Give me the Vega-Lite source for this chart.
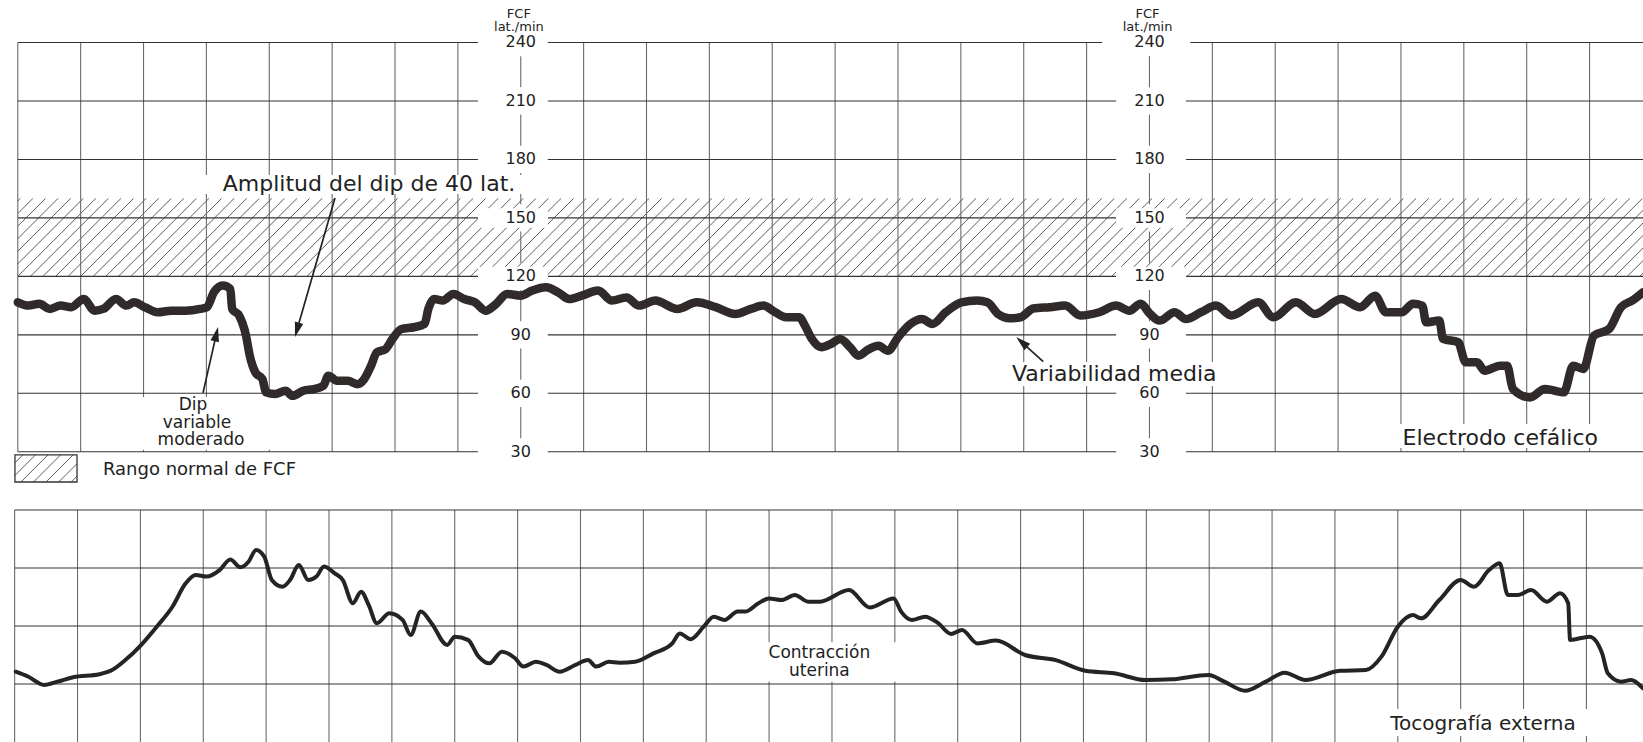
{
  "$schema": "https://vega.github.io/schema/vega-lite/v6.json",
  "width": 1643,
  "height": 742,
  "autosize": {"type": "none"},
  "padding": 0,
  "background": "white",
  "config": {"view": {"stroke": null}},
  "resolve": {"scale": {"y": "independent"}},
  "datasets": {
    "fhr": [
      {"t": 0, "v": 106.7}, {"t": 1.7, "v": 105}, {"t": 3.4, "v": 105.9}, {"t": 5.1, "v": 103.3}, {"t": 6.8, "v": 105},
      {"t": 8.5, "v": 104.2}, {"t": 10.5, "v": 108.4}, {"t": 12.2, "v": 102.4}, {"t": 13.6, "v": 103.3}, {"t": 15.6, "v": 108.4},
      {"t": 17.3, "v": 105}, {"t": 18.5, "v": 106.7}, {"t": 20.2, "v": 104.2}, {"t": 22.2, "v": 101.6}, {"t": 24.4, "v": 102.4},
      {"t": 26.7, "v": 102.4}, {"t": 29, "v": 103.3}, {"t": 30.1, "v": 104.2}, {"t": 31.2, "v": 111.9}, {"t": 32.6, "v": 115.3},
      {"t": 33.8, "v": 113.6}, {"t": 34.1, "v": 103.3}, {"t": 35.2, "v": 99.9}, {"t": 36.3, "v": 89.6}, {"t": 36.9, "v": 79.3},
      {"t": 37.8, "v": 70.7}, {"t": 38.9, "v": 67.3}, {"t": 39.5, "v": 60.5}, {"t": 40.9, "v": 59.6}, {"t": 42.6, "v": 61.3},
      {"t": 43.7, "v": 58.7}, {"t": 45.4, "v": 61.3}, {"t": 47.1, "v": 62.2}, {"t": 48.6, "v": 63.9}, {"t": 49.4, "v": 69},
      {"t": 50.8, "v": 66.4}, {"t": 52.5, "v": 66.4}, {"t": 54, "v": 64.7}, {"t": 55.1, "v": 67.3}, {"t": 56.2, "v": 74.2},
      {"t": 57.1, "v": 81}, {"t": 58.5, "v": 82.7}, {"t": 59.6, "v": 87.9}, {"t": 61, "v": 93}, {"t": 63, "v": 93.9},
      {"t": 64.7, "v": 95.6}, {"t": 65.3, "v": 103.3}, {"t": 66.2, "v": 108.4}, {"t": 67.6, "v": 107.6}, {"t": 69.3, "v": 111},
      {"t": 71, "v": 108.4}, {"t": 72.7, "v": 106.7}, {"t": 74.4, "v": 102.4}, {"t": 76.1, "v": 105.9}, {"t": 77.8, "v": 111},
      {"t": 80, "v": 110.1}, {"t": 81.8, "v": 112.7}, {"t": 84, "v": 114.4}, {"t": 86.1, "v": 111.5}, {"t": 87.7, "v": 108.4},
      {"t": 89.7, "v": 110.1}, {"t": 92.3, "v": 112.7}, {"t": 94.5, "v": 107.6}, {"t": 96.8, "v": 109.2}, {"t": 98.8, "v": 105},
      {"t": 101.4, "v": 107.6}, {"t": 104.9, "v": 103.3}, {"t": 108, "v": 106.7}, {"t": 111, "v": 104.2}, {"t": 114.1, "v": 100.7},
      {"t": 116.6, "v": 103.3}, {"t": 118.6, "v": 105}, {"t": 120.1, "v": 102.4}, {"t": 122.2, "v": 99}, {"t": 124.3, "v": 99},
      {"t": 125.2, "v": 94.7}, {"t": 126.3, "v": 87.9}, {"t": 127.8, "v": 83.6}, {"t": 129.3, "v": 85.3}, {"t": 130.8, "v": 87.9},
      {"t": 132.4, "v": 83.6}, {"t": 133.7, "v": 79.3}, {"t": 135.4, "v": 82.7}, {"t": 136.9, "v": 84.4}, {"t": 138.4, "v": 81.8},
      {"t": 140, "v": 88.7}, {"t": 142, "v": 95.6}, {"t": 143.8, "v": 98.1}, {"t": 145.5, "v": 95.6}, {"t": 147.6, "v": 101.6},
      {"t": 150.1, "v": 106.7}, {"t": 152.6, "v": 107.6}, {"t": 154.2, "v": 106.7}, {"t": 156, "v": 100.5}, {"t": 157.7, "v": 98.5},
      {"t": 159.5, "v": 99}, {"t": 161.5, "v": 103.5}, {"t": 164.2, "v": 104.2}, {"t": 166.6, "v": 105}, {"t": 169, "v": 99.9},
      {"t": 172, "v": 101.6}, {"t": 174.7, "v": 105}, {"t": 176.8, "v": 102.4}, {"t": 178.6, "v": 105.9}, {"t": 180.1, "v": 100.7},
      {"t": 181.6, "v": 97.3}, {"t": 184, "v": 101.6}, {"t": 185.8, "v": 98.1}, {"t": 188.2, "v": 101.6}, {"t": 190.6, "v": 105},
      {"t": 193, "v": 99.9}, {"t": 197.3, "v": 106.7}, {"t": 199.7, "v": 99}, {"t": 203.3, "v": 106.7}, {"t": 206.3, "v": 100.7},
      {"t": 210.5, "v": 108.4}, {"t": 213.5, "v": 104.2}, {"t": 215.9, "v": 110.1}, {"t": 217.6, "v": 101.6}, {"t": 220.1, "v": 101.6},
      {"t": 221.9, "v": 105.9}, {"t": 223.4, "v": 105}, {"t": 224, "v": 96.4}, {"t": 226.1, "v": 97.3}, {"t": 226.7, "v": 87.9},
      {"t": 229.1, "v": 86.2}, {"t": 230.3, "v": 75.9}, {"t": 232.1, "v": 75.9}, {"t": 233.3, "v": 71.6}, {"t": 235.8, "v": 74.2},
      {"t": 236.9, "v": 74.2}, {"t": 237.8, "v": 62.2}, {"t": 240.5, "v": 57.9}, {"t": 242.9, "v": 62.2}, {"t": 245.9, "v": 60.5},
      {"t": 247.4, "v": 74.2}, {"t": 249, "v": 72.5}, {"t": 250.7, "v": 89.6}, {"t": 253.1, "v": 93}, {"t": 255, "v": 104.2},
      {"t": 256.8, "v": 107.6}, {"t": 258.5, "v": 111.9}
    ],
    "uc": [
      {"t": -0.33, "u": 30.3}, {"t": 1.7, "u": 28.1}, {"t": 4.2, "u": 24.6}, {"t": 6.3, "u": 26}, {"t": 8.8, "u": 27.9},
      {"t": 13, "u": 29.2}, {"t": 15, "u": 31}, {"t": 17.1, "u": 35.3}, {"t": 19.6, "u": 41.8}, {"t": 22.1, "u": 49.7},
      {"t": 24.6, "u": 58.3}, {"t": 26.7, "u": 68.4}, {"t": 28.3, "u": 72}, {"t": 30, "u": 71.3}, {"t": 32.1, "u": 74.1},
      {"t": 33.8, "u": 78.7}, {"t": 35.4, "u": 75.3}, {"t": 36.7, "u": 77.7}, {"t": 37.9, "u": 82.8}, {"t": 39.2, "u": 79.9},
      {"t": 40.4, "u": 69.8}, {"t": 42.1, "u": 66.9}, {"t": 43.3, "u": 69.8}, {"t": 44.7, "u": 76.3}, {"t": 46.2, "u": 69.8},
      {"t": 47.5, "u": 71.3}, {"t": 48.7, "u": 75.6}, {"t": 50.4, "u": 72.7}, {"t": 51.7, "u": 69.8}, {"t": 53.3, "u": 59.8},
      {"t": 54.6, "u": 64.8}, {"t": 55.8, "u": 59.1}, {"t": 57.1, "u": 51.2}, {"t": 59.1, "u": 55.5}, {"t": 61.2, "u": 52.6},
      {"t": 62.5, "u": 46.1}, {"t": 64.1, "u": 56.2}, {"t": 65.8, "u": 51.2}, {"t": 68.3, "u": 41.8}, {"t": 69.5, "u": 45.4},
      {"t": 71.6, "u": 44}, {"t": 73.3, "u": 36.8}, {"t": 75, "u": 33.9}, {"t": 77, "u": 38.9}, {"t": 79.1, "u": 36.1},
      {"t": 80.4, "u": 32.5}, {"t": 82.4, "u": 34.6}, {"t": 84.1, "u": 33.2}, {"t": 86.2, "u": 30.3}, {"t": 88.7, "u": 33.2},
      {"t": 90.7, "u": 35.3}, {"t": 92, "u": 32.5}, {"t": 94, "u": 34.6}, {"t": 95.7, "u": 34.2}, {"t": 98.2, "u": 34.6},
      {"t": 101.1, "u": 38.2}, {"t": 104.1, "u": 42.5}, {"t": 105.3, "u": 46.8}, {"t": 107, "u": 44.3}, {"t": 109.1, "u": 49.7},
      {"t": 110.7, "u": 54}, {"t": 112.4, "u": 52.6}, {"t": 114.5, "u": 56.2}, {"t": 115.7, "u": 56.2}, {"t": 117.8, "u": 59.8},
      {"t": 119.5, "u": 61.9}, {"t": 121.5, "u": 61.2}, {"t": 123.6, "u": 63.4}, {"t": 125.7, "u": 60.5}, {"t": 127.6, "u": 60.5},
      {"t": 132.2, "u": 65.5}, {"t": 135.5, "u": 58}, {"t": 139.3, "u": 61.9}, {"t": 140.5, "u": 56.2}, {"t": 142.2, "u": 52.6},
      {"t": 144.3, "u": 54}, {"t": 146.4, "u": 51.2}, {"t": 148.4, "u": 46.6}, {"t": 150.2, "u": 48.3}, {"t": 152.6, "u": 42.5},
      {"t": 155.6, "u": 43.7}, {"t": 160.2, "u": 37.5}, {"t": 165.1, "u": 35.3}, {"t": 169.8, "u": 30.7}, {"t": 174.4, "u": 29.6},
      {"t": 179.4, "u": 26.7}, {"t": 183.5, "u": 27}, {"t": 189.4, "u": 28.9}, {"t": 191.9, "u": 26}, {"t": 195.2, "u": 22.1},
      {"t": 198.5, "u": 26}, {"t": 201.5, "u": 29.9}, {"t": 204.8, "u": 26.7}, {"t": 210.3, "u": 30.7}, {"t": 214.4, "u": 31},
      {"t": 216.9, "u": 36.8}, {"t": 219.5, "u": 49.7}, {"t": 221.9, "u": 54.7}, {"t": 223.2, "u": 53.3}, {"t": 226.1, "u": 61.2},
      {"t": 229.5, "u": 69.8}, {"t": 231.6, "u": 66.9}, {"t": 234, "u": 74.1}, {"t": 235.7, "u": 77}, {"t": 237, "u": 63.4},
      {"t": 238.6, "u": 63.4}, {"t": 240.7, "u": 65.5}, {"t": 243.2, "u": 60.5}, {"t": 245.3, "u": 64.1}, {"t": 246.6, "u": 59.8},
      {"t": 246.9, "u": 44}, {"t": 250, "u": 45.4}, {"t": 252, "u": 38.2}, {"t": 252.9, "u": 29.6}, {"t": 255, "u": 26},
      {"t": 256.6, "u": 26.7}, {"t": 258.5, "u": 23.1}
    ],
    "hgrid": [
      {"v": 30, "a": 0, "b": 73.2}, {"v": 30, "a": 84.3, "b": 174.7}, {"v": 30, "a": 185.8, "b": 259},
      {"v": 60, "a": 0, "b": 73.2}, {"v": 60, "a": 84.3, "b": 174.7}, {"v": 60, "a": 185.8, "b": 259},
      {"v": 90, "a": 0, "b": 73.2}, {"v": 90, "a": 84.3, "b": 174.7}, {"v": 90, "a": 185.8, "b": 259},
      {"v": 120, "a": 0, "b": 73.2}, {"v": 120, "a": 84.3, "b": 174.7}, {"v": 120, "a": 185.8, "b": 259},
      {"v": 150, "a": 0, "b": 73.2}, {"v": 150, "a": 84.3, "b": 174.7}, {"v": 150, "a": 185.8, "b": 259},
      {"v": 180, "a": 0, "b": 73.2}, {"v": 180, "a": 84.3, "b": 174.7}, {"v": 180, "a": 185.8, "b": 259},
      {"v": 210, "a": 0, "b": 73.2}, {"v": 210, "a": 84.3, "b": 174.7}, {"v": 210, "a": 185.8, "b": 259},
      {"v": 240, "a": 0, "b": 73.2}, {"v": 240, "a": 84.3, "b": 172.5}, {"v": 240, "a": 186.5, "b": 259}
    ],
    "colseg": [
      {"t": 80, "lo": 37, "hi": 53}, {"t": 80, "lo": 67, "hi": 83}, {"t": 80, "lo": 97, "hi": 113}, {"t": 80, "lo": 127, "hi": 143},
      {"t": 80, "lo": 157, "hi": 173}, {"t": 80, "lo": 187, "hi": 203}, {"t": 80, "lo": 217, "hi": 233},
      {"t": 180, "lo": 37, "hi": 53}, {"t": 180, "lo": 67, "hi": 83}, {"t": 180, "lo": 97, "hi": 113}, {"t": 180, "lo": 127, "hi": 143},
      {"t": 180, "lo": 157, "hi": 173}, {"t": 180, "lo": 187, "hi": 203}, {"t": 180, "lo": 217, "hi": 233}
    ],
    "masksFhr": [
      {"a": 25.5, "b": 86.2, "lo": 162.3, "hi": 172.0},
      {"a": 16.6, "b": 41.7, "lo": 31.0, "hi": 58.1},
      {"a": 152.3, "b": 196.8, "lo": 63.8, "hi": 76.1},
      {"a": 214.3, "b": 257.2, "lo": 31.9, "hi": 44.3},
      {"a": 73.2, "b": 84.3, "lo": 145, "hi": 155},
      {"a": 73.2, "b": 84.3, "lo": 115, "hi": 125},
      {"a": 174.7, "b": 185.8, "lo": 145, "hi": 155},
      {"a": 174.7, "b": 185.8, "lo": 115, "hi": 125}
    ],
    "masksUc": [
      {"a": 112.5, "b": 142.7, "lo": 26.0, "hi": 43.0},
      {"a": 210.3, "b": 255.6, "lo": 2.6, "hi": 14.2}
    ],
    "labels": [
      {"t": 80, "v": 240}, {"t": 80, "v": 210}, {"t": 80, "v": 180}, {"t": 80, "v": 150},
      {"t": 80, "v": 120}, {"t": 80, "v": 90}, {"t": 80, "v": 60}, {"t": 80, "v": 30},
      {"t": 180, "v": 240}, {"t": 180, "v": 210}, {"t": 180, "v": 180}, {"t": 180, "v": 150},
      {"t": 180, "v": 120}, {"t": 180, "v": 90}, {"t": 180, "v": 60}, {"t": 180, "v": 30}
    ],
    "heads": [
      {"t": 79.7, "v": 254.4, "s": "FCF"}, {"t": 79.7, "v": 247.7, "s": "lat./min"},
      {"t": 179.7, "v": 254.4, "s": "FCF"}, {"t": 179.7, "v": 247.7, "s": "lat./min"}
    ],
    "notesBig": [
      {"t": 55.86, "v": 167.4, "s": "Amplitud del dip de 40 lat."},
      {"t": 174.4, "v": 69.9, "s": "Variabilidad media"},
      {"t": 235.8, "v": 37.1, "s": "Electrodo cefálico"}
    ],
    "notesDip": [
      {"t": 27.87, "v": 54.0, "s": "Dip"},
      {"t": 28.5, "v": 45.0, "s": "variable"},
      {"t": 29.14, "v": 36.0, "s": "moderado"}
    ],
    "notesUc": [
      {"t": 127.5, "u": 38.4, "s": "Contracción"},
      {"t": 127.5, "u": 30.6, "s": "uterina"}
    ],
    "notesUc2": [
      {"t": 233.05, "u": 7.76, "s": "Tocografía externa"}
    ],
    "legendText": [{"t": 13.55, "v": 20.7, "s": "Rango normal de FCF"}],
    "legendBox": [{"a": -0.45, "b": 9.42, "lo": 14.5, "hi": 28.4}],
    "legendHatch": [
      {"a": -0.45, "p": 24.34, "b": 0.81, "q": 28.4},
      {"a": -0.45, "p": 17.89, "b": 2.81, "q": 28.4},
      {"a": 0.5, "p": 14.5, "b": 4.81, "q": 28.4},
      {"a": 2.5, "p": 14.5, "b": 6.81, "q": 28.4},
      {"a": 4.5, "p": 14.5, "b": 8.81, "q": 28.4},
      {"a": 6.5, "p": 14.5, "b": 9.42, "q": 23.92},
      {"a": 8.5, "p": 14.5, "b": 9.42, "q": 17.47}
    ],
    "shafts": [
      {"a": 50.45, "p": 160.2, "b": 44.47, "q": 93.2},
      {"a": 29.46, "p": 60.2, "b": 31.54, "q": 89.7},
      {"a": 163.1, "p": 76.2, "b": 159.85, "q": 85.8}
    ]
  },
  "layer": [
    {
      "data": {"values": [-12,-10,-8,-6,-4,-2,0,2,4,6,8,10,12,14,16,18,20,22,24,26,28,30,32,34,36,38,40,42,44,46,48,50,52,54,56,58,60,62,64,66,68,70,72,74,76,78,80,82,84,86,88,90,92,94,96,98,100,102,104,106,108,110,112,114,116,118,120,122,124,126,128,130,132,134,136,138,140,142,144,146,148,150,152,154,156,158,160,162,164,166,168,170,172,174,176,178,180,182,184,186,188,190,192,194,196,198,200,202,204,206,208,210,212,214,216,218,220,222,224,226,228,230,232,234,236,238,240,242,244,246,248,250,252,254,256,258]},
      "mark": {"type": "rule", "x2Offset": 78, "stroke": "#4a4a4a", "strokeWidth": 0.9, "clip": true},
      "encoding": {
        "x": {"field": "data", "type": "quantitative", "scale": {"domain": [-2.83, 258.5], "nice": false, "zero": false}, "axis": null},
        "x2": {"field": "data"},
        "y": {"datum": 120, "type": "quantitative", "scale": {"domain": [-118.9, 261.8], "nice": false, "zero": false}, "axis": null},
        "y2": {"datum": 160}
      }
    },
    {
      "data": {"values": [{"m": 1}]},
      "mark": {"type": "rect", "fill": "white"},
      "encoding": {
        "x": {"datum": -2.83, "type": "quantitative", "scale": {"domain": [-2.83, 258.5], "nice": false, "zero": false}, "axis": null},
        "x2": {"datum": 0},
        "y": {"datum": 116, "type": "quantitative", "scale": {"domain": [-118.9, 261.8], "nice": false, "zero": false}, "axis": null},
        "y2": {"datum": 164}
      }
    },
    {
      "data": {"values": [0,10,20,30,40,50,60,70,90,100,110,120,130,140,150,160,170,190,200,210,220,230,240,250]},
      "mark": {"type": "rule", "stroke": "#6a6a6a", "strokeWidth": 1.1},
      "encoding": {
        "x": {"field": "data", "type": "quantitative", "scale": {"domain": [-2.83, 258.5], "nice": false, "zero": false}, "axis": null},
        "y": {"datum": 30, "type": "quantitative", "scale": {"domain": [-118.9, 261.8], "nice": false, "zero": false}, "axis": null},
        "y2": {"datum": 240}
      }
    },
    {
      "data": {"name": "colseg"},
      "mark": {"type": "rule", "stroke": "#6a6a6a", "strokeWidth": 1.1},
      "encoding": {
        "x": {"field": "t", "type": "quantitative", "scale": {"domain": [-2.83, 258.5], "nice": false, "zero": false}, "axis": null},
        "y": {"field": "lo", "type": "quantitative", "scale": {"domain": [-118.9, 261.8], "nice": false, "zero": false}, "axis": null},
        "y2": {"field": "hi"}
      }
    },
    {
      "data": {"name": "hgrid"},
      "mark": {"type": "rule", "stroke": "#333333", "strokeWidth": 1.1},
      "encoding": {
        "x": {"field": "a", "type": "quantitative", "scale": {"domain": [-2.83, 258.5], "nice": false, "zero": false}, "axis": null},
        "x2": {"field": "b"},
        "y": {"field": "v", "type": "quantitative", "scale": {"domain": [-118.9, 261.8], "nice": false, "zero": false}, "axis": null}
      }
    },
    {
      "data": {"values": [-0.5,9.5,19.5,29.5,39.5,49.5,59.5,69.5,79.5,89.5,99.5,109.5,119.5,129.5,139.5,149.5,159.5,169.5,179.5,189.5,199.5,209.5,219.5,229.5,239.5,249.5]},
      "mark": {"type": "rule", "stroke": "#6a6a6a", "strokeWidth": 1.1},
      "encoding": {
        "x": {"field": "data", "type": "quantitative", "scale": {"domain": [-2.83, 258.5], "nice": false, "zero": false}, "axis": null},
        "y": {"datum": 0, "type": "quantitative", "scale": {"domain": [0, 319.8], "nice": false, "zero": false}, "axis": null},
        "y2": {"datum": 100}
      }
    },
    {
      "data": {"values": [25, 50, 75, 100]},
      "mark": {"type": "rule", "stroke": "#333333", "strokeWidth": 1.1},
      "encoding": {
        "x": {"datum": -0.5, "type": "quantitative", "scale": {"domain": [-2.83, 258.5], "nice": false, "zero": false}, "axis": null},
        "x2": {"datum": 258.5},
        "y": {"field": "data", "type": "quantitative", "scale": {"domain": [0, 319.8], "nice": false, "zero": false}, "axis": null}
      }
    },
    {
      "data": {"name": "masksFhr"},
      "mark": {"type": "rect", "fill": "white"},
      "encoding": {
        "x": {"field": "a", "type": "quantitative", "scale": {"domain": [-2.83, 258.5], "nice": false, "zero": false}, "axis": null},
        "x2": {"field": "b"},
        "y": {"field": "lo", "type": "quantitative", "scale": {"domain": [-118.9, 261.8], "nice": false, "zero": false}, "axis": null},
        "y2": {"field": "hi"}
      }
    },
    {
      "data": {"name": "masksUc"},
      "mark": {"type": "rect", "fill": "white"},
      "encoding": {
        "x": {"field": "a", "type": "quantitative", "scale": {"domain": [-2.83, 258.5], "nice": false, "zero": false}, "axis": null},
        "x2": {"field": "b"},
        "y": {"field": "lo", "type": "quantitative", "scale": {"domain": [0, 319.8], "nice": false, "zero": false}, "axis": null},
        "y2": {"field": "hi"}
      }
    },
    {
      "data": {"name": "legendHatch"},
      "mark": {"type": "rule", "stroke": "#4a4a4a", "strokeWidth": 0.9},
      "encoding": {
        "x": {"field": "a", "type": "quantitative", "scale": {"domain": [-2.83, 258.5], "nice": false, "zero": false}, "axis": null},
        "x2": {"field": "b"},
        "y": {"field": "p", "type": "quantitative", "scale": {"domain": [-118.9, 261.8], "nice": false, "zero": false}, "axis": null},
        "y2": {"field": "q"}
      }
    },
    {
      "data": {"name": "legendBox"},
      "mark": {"type": "rect", "fill": "transparent", "stroke": "#333333", "strokeWidth": 1.3},
      "encoding": {
        "x": {"field": "a", "type": "quantitative", "scale": {"domain": [-2.83, 258.5], "nice": false, "zero": false}, "axis": null},
        "x2": {"field": "b"},
        "y": {"field": "lo", "type": "quantitative", "scale": {"domain": [-118.9, 261.8], "nice": false, "zero": false}, "axis": null},
        "y2": {"field": "hi"}
      }
    },
    {
      "data": {"name": "labels"},
      "mark": {"type": "text", "font": "DejaVu Sans", "fontSize": 16, "baseline": "middle", "align": "center", "fill": "#222222"},
      "encoding": {
        "x": {"field": "t", "type": "quantitative", "scale": {"domain": [-2.83, 258.5], "nice": false, "zero": false}, "axis": null},
        "y": {"field": "v", "type": "quantitative", "scale": {"domain": [-118.9, 261.8], "nice": false, "zero": false}, "axis": null},
        "text": {"field": "v", "type": "quantitative"}
      }
    },
    {
      "data": {"name": "heads"},
      "mark": {"type": "text", "font": "DejaVu Sans", "fontSize": 13, "baseline": "middle", "align": "center", "fill": "#222222"},
      "encoding": {
        "x": {"field": "t", "type": "quantitative", "scale": {"domain": [-2.83, 258.5], "nice": false, "zero": false}, "axis": null},
        "y": {"field": "v", "type": "quantitative", "scale": {"domain": [-118.9, 261.8], "nice": false, "zero": false}, "axis": null},
        "text": {"field": "s"}
      }
    },
    {
      "data": {"name": "notesBig"},
      "mark": {"type": "text", "font": "DejaVu Sans", "fontSize": 22, "baseline": "middle", "align": "center", "fill": "#222222"},
      "encoding": {
        "x": {"field": "t", "type": "quantitative", "scale": {"domain": [-2.83, 258.5], "nice": false, "zero": false}, "axis": null},
        "y": {"field": "v", "type": "quantitative", "scale": {"domain": [-118.9, 261.8], "nice": false, "zero": false}, "axis": null},
        "text": {"field": "s"}
      }
    },
    {
      "data": {"name": "notesDip"},
      "mark": {"type": "text", "font": "DejaVu Sans", "fontSize": 17, "baseline": "middle", "align": "center", "fill": "#222222"},
      "encoding": {
        "x": {"field": "t", "type": "quantitative", "scale": {"domain": [-2.83, 258.5], "nice": false, "zero": false}, "axis": null},
        "y": {"field": "v", "type": "quantitative", "scale": {"domain": [-118.9, 261.8], "nice": false, "zero": false}, "axis": null},
        "text": {"field": "s"}
      }
    },
    {
      "data": {"name": "legendText"},
      "mark": {"type": "text", "font": "DejaVu Sans", "fontSize": 18, "baseline": "middle", "align": "left", "fill": "#222222"},
      "encoding": {
        "x": {"field": "t", "type": "quantitative", "scale": {"domain": [-2.83, 258.5], "nice": false, "zero": false}, "axis": null},
        "y": {"field": "v", "type": "quantitative", "scale": {"domain": [-118.9, 261.8], "nice": false, "zero": false}, "axis": null},
        "text": {"field": "s"}
      }
    },
    {
      "data": {"name": "notesUc"},
      "mark": {"type": "text", "font": "DejaVu Sans", "fontSize": 17, "baseline": "middle", "align": "center", "fill": "#222222"},
      "encoding": {
        "x": {"field": "t", "type": "quantitative", "scale": {"domain": [-2.83, 258.5], "nice": false, "zero": false}, "axis": null},
        "y": {"field": "u", "type": "quantitative", "scale": {"domain": [0, 319.8], "nice": false, "zero": false}, "axis": null},
        "text": {"field": "s"}
      }
    },
    {
      "data": {"name": "notesUc2"},
      "mark": {"type": "text", "font": "DejaVu Sans", "fontSize": 20, "baseline": "middle", "align": "center", "fill": "#222222"},
      "encoding": {
        "x": {"field": "t", "type": "quantitative", "scale": {"domain": [-2.83, 258.5], "nice": false, "zero": false}, "axis": null},
        "y": {"field": "u", "type": "quantitative", "scale": {"domain": [0, 319.8], "nice": false, "zero": false}, "axis": null},
        "text": {"field": "s"}
      }
    },
    {
      "data": {"name": "shafts"},
      "mark": {"type": "rule", "stroke": "#222222", "strokeWidth": 1.7},
      "encoding": {
        "x": {"field": "a", "type": "quantitative", "scale": {"domain": [-2.83, 258.5], "nice": false, "zero": false}, "axis": null},
        "x2": {"field": "b"},
        "y": {"field": "p", "type": "quantitative", "scale": {"domain": [-118.9, 261.8], "nice": false, "zero": false}, "axis": null},
        "y2": {"field": "q"}
      }
    },
    {
      "data": {"values": [{"t": 44.47, "v": 93.2}]},
      "mark": {"type": "point", "shape": "M0,-1L-0.5,0.7L0.5,0.7Z", "size": 300, "angle": 196, "filled": true, "fill": "#222222", "stroke": null, "opacity": 1},
      "encoding": {
        "x": {"field": "t", "type": "quantitative", "scale": {"domain": [-2.83, 258.5], "nice": false, "zero": false}, "axis": null},
        "y": {"field": "v", "type": "quantitative", "scale": {"domain": [-118.9, 261.8], "nice": false, "zero": false}, "axis": null}
      }
    },
    {
      "data": {"values": [{"t": 31.54, "v": 89.7}]},
      "mark": {"type": "point", "shape": "M0,-1L-0.5,0.7L0.5,0.7Z", "size": 300, "angle": 13, "filled": true, "fill": "#222222", "stroke": null, "opacity": 1},
      "encoding": {
        "x": {"field": "t", "type": "quantitative", "scale": {"domain": [-2.83, 258.5], "nice": false, "zero": false}, "axis": null},
        "y": {"field": "v", "type": "quantitative", "scale": {"domain": [-118.9, 261.8], "nice": false, "zero": false}, "axis": null}
      }
    },
    {
      "data": {"values": [{"t": 159.85, "v": 85.8}]},
      "mark": {"type": "point", "shape": "M0,-1L-0.5,0.7L0.5,0.7Z", "size": 300, "angle": 312, "filled": true, "fill": "#222222", "stroke": null, "opacity": 1},
      "encoding": {
        "x": {"field": "t", "type": "quantitative", "scale": {"domain": [-2.83, 258.5], "nice": false, "zero": false}, "axis": null},
        "y": {"field": "v", "type": "quantitative", "scale": {"domain": [-118.9, 261.8], "nice": false, "zero": false}, "axis": null}
      }
    },
    {
      "data": {"name": "uc"},
      "mark": {"type": "line", "stroke": "#262323", "strokeWidth": 4, "interpolate": "monotone", "strokeJoin": "round", "strokeCap": "round"},
      "encoding": {
        "x": {"field": "t", "type": "quantitative", "scale": {"domain": [-2.83, 258.5], "nice": false, "zero": false}, "axis": null},
        "y": {"field": "u", "type": "quantitative", "scale": {"domain": [0, 319.8], "nice": false, "zero": false}, "axis": null}
      }
    },
    {
      "data": {"name": "fhr"},
      "mark": {"type": "line", "stroke": "#302a2a", "strokeWidth": 8.5, "interpolate": "monotone", "strokeJoin": "round", "strokeCap": "round"},
      "encoding": {
        "x": {"field": "t", "type": "quantitative", "scale": {"domain": [-2.83, 258.5], "nice": false, "zero": false}, "axis": null},
        "y": {"field": "v", "type": "quantitative", "scale": {"domain": [-118.9, 261.8], "nice": false, "zero": false}, "axis": null}
      }
    }
  ]
}
